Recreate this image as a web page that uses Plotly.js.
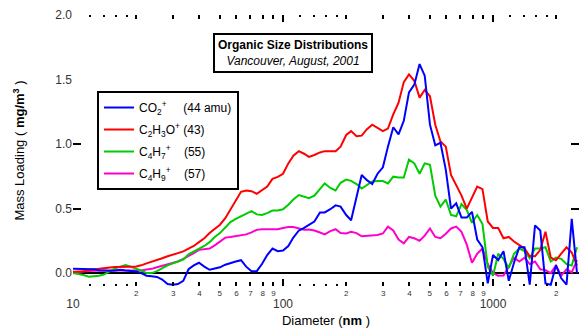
<!DOCTYPE html>
<html><head><meta charset="utf-8">
<script src="https://cdn.plot.ly/plotly-3.0.1.min.js"></script>
<style>html,body{margin:0;padding:0;background:#fff}#chart{width:579px;height:330px}</style>
</head><body><div id="chart"></div>
<script>
// Diameter bins (nm)
const diameter = [10.0, 10.6, 11.2, 11.9, 12.6, 13.3, 14.1, 15.0, 15.8, 16.8, 17.8, 18.8, 20.0, 21.1, 22.4, 23.7, 25.1, 26.6, 28.2, 29.9, 31.6, 33.5, 35.5, 37.6, 39.8, 42.2, 44.7, 47.3, 50.1, 53.1, 56.2, 59.6, 63.1, 66.8, 70.8, 75.0, 79.4, 84.1, 89.1, 94.4,
  100, 106, 112, 119, 126, 133, 141, 150, 158, 168, 178, 188, 200, 211, 224, 237, 251, 266, 282, 299, 316, 335, 355, 376, 398, 422, 447, 473, 501, 531, 562, 596, 631, 668, 708, 750, 794, 841, 891, 944,
  1000, 1059, 1122, 1189, 1259, 1334, 1413, 1496, 1585, 1679, 1778, 1884, 1995, 2113, 2239, 2371, 2512];

// Mass loading (ug/m3) per fragment
const co2 = [0.034,0.034,0.034,0.034,0.03,0.022,0.018,0.018,0.02,0.025,
 0.02,0.015,0.013,0.0,-0.02,-0.025,-0.03,-0.05,-0.085,-0.09,
 -0.085,-0.06,0.03,0.06,0.08,0.05,0.026,0.035,0.045,0.065,
 0.08,0.09,0.1,0.05,0.015,0.015,0.07,0.14,0.19,0.17,
 0.175,0.21,0.275,0.33,0.35,0.375,0.4,0.47,0.47,0.495,
 0.525,0.515,0.45,0.41,0.58,0.76,0.72,0.69,0.77,0.82,
 0.98,1.13,1.075,1.18,1.40,1.46,1.62,1.53,1.15,0.99,
 1.01,0.8,0.5,0.54,0.43,0.43,0.475,0.26,0.2,-0.08,
 0.14,0.1,0.17,-0.06,0.08,0.2,0.2,-0.09,0.37,0.33,
 -0.08,-0.09,0.06,-0.04,-0.09,0.42,0.0];

const c2h3o = [0.01,0.01,0.015,0.024,0.03,0.034,0.037,0.043,0.047,0.05,
 0.05,0.05,0.052,0.06,0.075,0.09,0.1,0.115,0.13,0.145,
 0.155,0.168,0.19,0.21,0.24,0.27,0.31,0.345,0.375,0.425,
 0.49,0.56,0.63,0.64,0.635,0.615,0.64,0.67,0.73,0.745,
 0.77,0.85,0.91,0.945,0.925,0.9,0.915,0.935,0.945,0.945,
 0.945,0.98,1.07,1.10,1.06,1.065,1.115,1.15,1.125,1.10,
 1.12,1.23,1.32,1.48,1.54,1.49,1.36,1.42,1.37,1.15,
 1.02,0.98,0.76,0.68,0.6,0.5,0.58,0.67,0.65,0.4,
 0.35,0.35,0.27,0.28,0.245,0.22,0.19,0.13,0.13,0.18,
 0.32,0.12,0.1,0.15,0.2,0.16,0.06];

const c4h7 = [0.0,-0.006,-0.015,-0.028,-0.025,-0.02,-0.01,0.015,0.035,0.05,
 0.062,0.05,0.035,0.02,0.0,0.0,0.015,0.04,0.06,0.075,
 0.09,0.105,0.145,0.165,0.185,0.21,0.24,0.28,0.31,0.355,
 0.395,0.42,0.44,0.465,0.48,0.455,0.45,0.465,0.485,0.485,
 0.495,0.53,0.57,0.605,0.595,0.58,0.6,0.65,0.695,0.66,
 0.64,0.7,0.725,0.715,0.69,0.655,0.68,0.71,0.713,0.713,
 0.695,0.747,0.74,0.74,0.88,0.85,0.77,0.85,0.84,0.6,
 0.515,0.57,0.45,0.44,0.535,0.49,0.39,0.45,0.38,0.05,
 -0.02,0.15,0.11,0.04,0.15,0.19,0.17,0.115,0.19,0.19,
 0.2,0.09,0.12,0.11,0.07,0.058,0.2];

const c4h9 = [0.005,0.01,0.013,0.017,0.019,0.02,0.02,0.02,0.02,0.02,
 0.02,0.02,0.02,0.02,0.027,0.033,0.045,0.055,0.065,0.08,
 0.09,0.11,0.13,0.155,0.18,0.185,0.19,0.215,0.245,0.275,
 0.28,0.285,0.295,0.3,0.315,0.335,0.34,0.34,0.34,0.34,
 0.35,0.357,0.357,0.346,0.336,0.338,0.33,0.315,0.3,0.325,
 0.34,0.31,0.307,0.32,0.31,0.285,0.29,0.295,0.295,0.307,
 0.36,0.33,0.26,0.23,0.28,0.27,0.25,0.29,0.346,0.28,
 0.27,0.305,0.346,0.36,0.32,0.22,0.08,0.15,0.19,0.07,
 0.0,-0.02,-0.018,0.05,0.12,0.09,0.12,0.07,0.09,0.03,
 0.023,0.0,0.06,-0.02,0.03,0.005,0.1];

const seriesNames = [
  'CO<sub>2</sub><sup>+</sup>\u00a0\u00a0\u00a0\u00a0\u00a0(44 amu)',
  'C<sub>2</sub>H<sub>3</sub>O<sup>+</sup>\u00a0(43)',
  'C<sub>4</sub>H<sub>7</sub><sup>+</sup>\u00a0\u00a0\u00a0\u00a0(55)',
  'C<sub>4</sub>H<sub>9</sub><sup>+</sup>\u00a0\u00a0\u00a0\u00a0(57)'
];
const seriesColors = ['#0000ff', '#ff0000', '#00cc00', '#ff00cc'];
const seriesData = [co2, c2h3o, c4h7, c4h9];

const minorLabelVals = [20,30,40,50,60,70,80,90,200,300,400,500,600,700,800,900,2000];
const minorLabelText = ['2','3','4','5','6','7','8','9','2','3','4','5','6','7','8','9','2'];
const decadeVals = [10, 100, 1000];
const decadeText = ['10', '100', '1000'];
const dotVals = [12,14,16,18,120,140,160,180,1200,1400,1600,1800];
const yTickVals = [0, 0.5, 1.0, 1.5, 2.0];
const yMarkVals = [0.5, 1.0];

const traces = [];
for (let k = seriesData.length - 1; k >= 0; k--) {
  traces.push({
    x: diameter, y: seriesData[k], type: 'scatter', mode: 'lines',
    name: seriesNames[k], legendgroup: 'g' + k, legendrank: k + 1,
    line: {color: seriesColors[k], width: 2},
    xaxis: 'x', yaxis: 'y'
  });
}
traces.push({x: [], y: [], xaxis: 'x2', yaxis: 'y', showlegend: false, hoverinfo: 'skip', type: 'scatter'});
traces.push({x: [], y: [], xaxis: 'x', yaxis: 'y2', showlegend: false, hoverinfo: 'skip', type: 'scatter'});

const fam = '"Liberation Sans", Arial, Helvetica, sans-serif';
const layout = {
  width: 579, height: 330,
  margin: {l: 73, r: 0, t: 15, b: 44},
  paper_bgcolor: '#fff', plot_bgcolor: '#fff',
  font: {family: fam, color: '#000', size: 12},
  showlegend: true,
  legend: {x: 0.0474, y: 0.7195, xanchor: 'left', yanchor: 'top', bordercolor: '#000', borderwidth: 2,
           bgcolor: '#fff', font: {size: 12, family: fam}, traceorder: 'grouped', tracegroupgap: 3,
           itemwidth: 30},
  xaxis: {type: 'log', range: [1, 3.4095], tickmode: 'array', tickvals: minorLabelVals, ticktext: minorLabelText,
          ticks: 'inside', ticklen: 4, tickwidth: 2, tickcolor: '#000', mirror: 'ticks', showline: false,
          showgrid: false, zeroline: false, tickfont: {size: 8, color: '#333'}, ticklabelstandoff: 1,
          minor: {tickmode: 'array', tickvals: dotVals, ticks: 'inside', ticklen: 2, tickwidth: 2, tickcolor: '#000', showgrid: false},
          title: {text: 'Diameter (<b>nm</b> )', font: {size: 13, color: '#000'}, standoff: 18}},
  xaxis2: {type: 'log', overlaying: 'x', anchor: 'y', side: 'bottom', range: [1, 3.4095], tickmode: 'array',
           tickvals: decadeVals, ticktext: decadeText, ticks: 'inside', ticklen: 7, tickwidth: 2, tickcolor: '#000',
           mirror: 'ticks', showgrid: false, zeroline: false, showline: false,
           tickfont: {size: 12, color: '#333'}, ticklabelstandoff: 9},
  yaxis: {range: [-0.1, 2.0], tickmode: 'array', tickvals: yTickVals, tickformat: '.1f', ticks: '',
          showgrid: false, zeroline: true, zerolinecolor: '#000', zerolinewidth: 2.5, showline: false,
          tickfont: {size: 12, color: '#333'},
          title: {text: 'Mass Loading ( <b>mg/m<sup>3</sup></b> )', font: {size: 13, color: '#000'}, standoff: 27}},
  yaxis2: {overlaying: 'y', anchor: 'x', side: 'left', range: [-0.1, 2.0], tickmode: 'array', tickvals: yMarkVals,
           ticks: 'inside', ticklen: 8, tickwidth: 2, tickcolor: '#000', mirror: 'ticks',
           showticklabels: false, showgrid: false, zeroline: false, showline: false},
  annotations: [{xref: 'paper', yref: 'paper', x: 0.435, y: 0.86, xanchor: 'center', yanchor: 'middle',
                 text: '<b>Organic Size Distributions</b><br><i>Vancouver, August, 2001</i>',
                 showarrow: false, bordercolor: '#000', borderwidth: 2, borderpad: 3, bgcolor: '#fff',
                 font: {size: 12, family: fam, color: '#000'}}]
};

Plotly.newPlot('chart', traces, layout, {displayModeBar: false, staticPlot: true});
</script>
</body></html>
